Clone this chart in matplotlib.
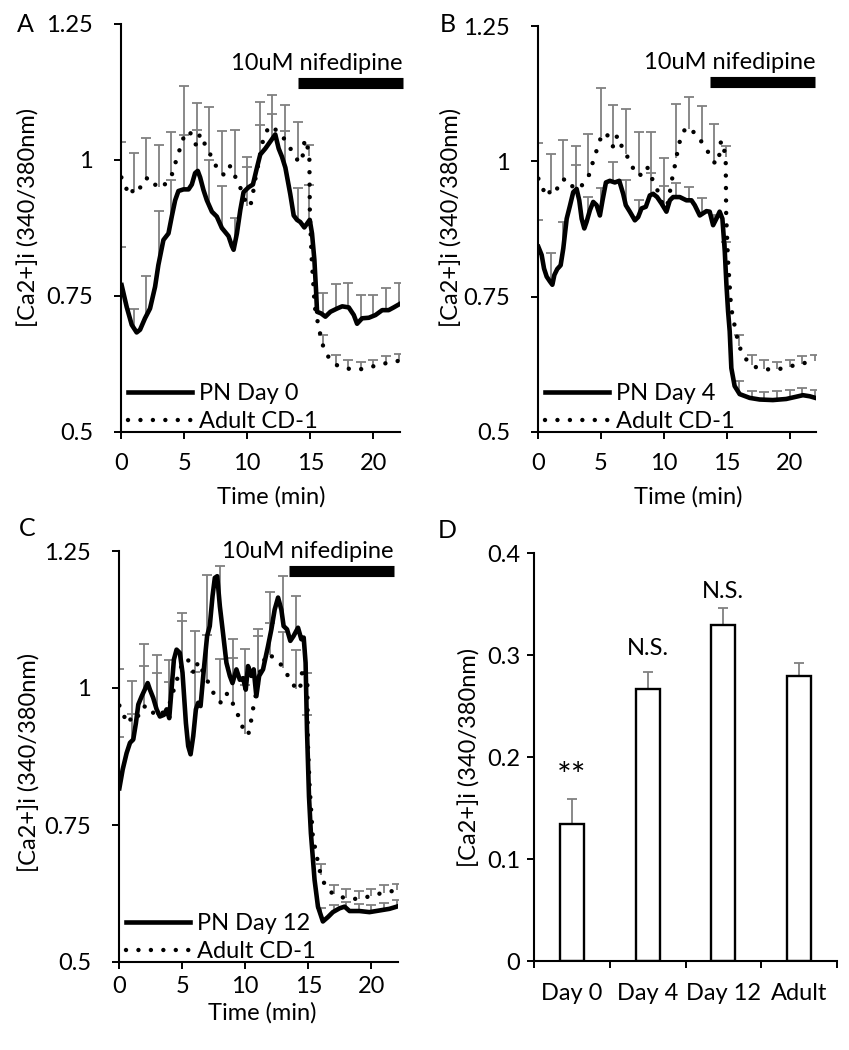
import numpy as np
import matplotlib
matplotlib.use('Agg')
import matplotlib.pyplot as plt

plt.rcParams['font.family'] = ['Lato', 'DejaVu Sans']
FS = 17
GRAY = '#808080'

# ---------------- data ----------------
# Adult CD-1 trace (same in A, B, C)
adult_t = [0.03, 0.38, 0.65, 0.99, 1.44, 1.63, 2.02, 2.33, 2.73, 3.2, 3.65, 4.03, 4.25, 4.5,
           4.76, 5.01, 5.45, 5.72, 6.02, 6.22, 6.43, 6.68, 7.03, 7.4, 7.75, 8.1, 8.45, 8.8,
           9.07, 9.42, 9.72, 9.98, 10.25, 10.42, 10.58, 10.72, 10.88, 11.05, 11.18, 11.42,
           11.76, 12.15, 12.6, 13.0, 13.42, 13.77, 14.1, 14.35, 14.55, 14.77, 14.92, 14.96,
           15.1, 15.35, 15.6, 15.78, 15.95, 16.25, 16.75, 17.3, 18.1, 18.9, 19.7, 20.5,
           21.3, 22.05]
adult_y = [0.968, 0.950, 0.935, 0.945, 0.941, 0.961, 0.966, 0.968, 0.954, 0.948, 0.960, 0.973,
           0.990, 1.009, 1.027, 1.045, 1.053, 1.034, 1.026, 1.045, 1.047, 1.025, 1.012, 0.995,
           0.978, 0.973, 0.990, 0.987, 0.968, 0.951, 0.933, 0.916, 0.916, 0.934, 0.957, 0.975,
           0.992, 1.013, 1.030, 1.047, 1.063, 1.057, 1.051, 1.036, 1.021, 1.008, 0.995, 1.000,
           1.038, 1.024, 1.008, 0.900, 0.820, 0.730, 0.700, 0.680, 0.662, 0.644, 0.628, 0.620,
           0.616, 0.615, 0.619, 0.624, 0.628, 0.631]

# PN Day 0 (panel A)
d0_t = [0.05, 0.45, 0.85, 1.24, 1.51, 1.9, 2.3, 2.7, 2.96, 3.36, 3.76, 4.02, 4.29, 4.55, 4.95,
        5.35, 5.61, 5.87, 6.08, 6.27, 6.53, 6.8, 7.2, 7.59, 7.99, 8.52, 8.78, 8.92, 9.18, 9.45,
        9.71, 10.11, 10.45, 10.77, 11.03, 11.43, 11.83, 12.22, 12.49, 12.75, 13.02, 13.41,
        13.68, 13.94, 14.2, 14.52, 14.95, 15.13, 15.32, 15.45, 15.53, 15.85, 16.19, 16.59,
        17.12, 17.52, 18.04, 18.44, 18.7, 19.1, 19.63, 20.16, 20.69, 21.2, 21.6, 22.05]
d0_y = [0.770, 0.730, 0.697, 0.683, 0.688, 0.709, 0.727, 0.767, 0.807, 0.853, 0.865, 0.896,
        0.926, 0.943, 0.946, 0.946, 0.955, 0.976, 0.980, 0.968, 0.945, 0.926, 0.905, 0.896,
        0.875, 0.860, 0.842, 0.835, 0.865, 0.908, 0.941, 0.950, 0.955, 0.986, 1.010, 1.021,
        1.034, 1.047, 1.021, 1.006, 0.986, 0.937, 0.898, 0.890, 0.886, 0.876, 0.890, 0.865,
        0.816, 0.760, 0.721, 0.718, 0.712, 0.721, 0.727, 0.731, 0.729, 0.715, 0.699, 0.709,
        0.710, 0.715, 0.724, 0.724, 0.729, 0.735]

# PN Day 4 (panel B)
d4_t = [0.03, 0.29, 0.48, 0.69, 0.95, 1.14, 1.3, 1.53, 1.8, 2.01, 2.28, 2.54, 2.8, 3.07, 3.28,
        3.47, 3.68, 3.86, 4.13, 4.39, 4.66, 4.92, 5.13, 5.4, 5.71, 6.11, 6.46, 6.77, 6.98, 7.3,
        7.7, 7.96, 8.23, 8.57, 8.89, 9.15, 9.47, 9.82, 10.21, 10.48, 10.74, 11.27, 11.8, 12.2,
        12.46, 12.86, 13.12, 13.39, 13.65, 13.92, 14.18, 14.44, 14.66, 14.85, 14.98, 15.11,
        15.24, 15.37, 15.63, 16.03, 16.83, 17.62, 18.67, 19.73, 20.5, 21.06, 21.6, 22.05]
d4_y = [0.842, 0.827, 0.802, 0.787, 0.778, 0.772, 0.790, 0.801, 0.808, 0.839, 0.894, 0.918,
        0.943, 0.949, 0.928, 0.894, 0.876, 0.888, 0.910, 0.925, 0.919, 0.900, 0.928, 0.961,
        0.964, 0.961, 0.964, 0.940, 0.919, 0.907, 0.891, 0.897, 0.913, 0.916, 0.937, 0.940,
        0.934, 0.922, 0.907, 0.928, 0.934, 0.934, 0.928, 0.928, 0.919, 0.900, 0.904, 0.908,
        0.907, 0.882, 0.894, 0.907, 0.894, 0.833, 0.772, 0.723, 0.686, 0.618, 0.585, 0.570,
        0.563, 0.560, 0.559, 0.561, 0.565, 0.568, 0.566, 0.563]

# PN Day 12 (panel C)
d12_t = [0.03, 0.29, 0.6, 0.87, 1.13, 1.34, 1.53, 1.8, 2.06, 2.27, 2.45, 2.71, 2.98, 3.24, 3.56,
         3.77, 3.98, 4.16, 4.35, 4.56, 4.82, 5.03, 5.3, 5.48, 5.67, 5.88, 6.09, 6.27, 6.46,
         6.72, 6.98, 7.19, 7.41, 7.59, 7.78, 7.99, 8.25, 8.51, 8.78, 8.99, 9.3, 9.57, 9.83,
         10.04, 10.22, 10.48, 10.67, 10.88, 11.1, 11.41, 11.8, 12.07, 12.33, 12.6, 12.86,
         13.04, 13.31, 13.57, 13.83, 14.18, 14.44, 14.63, 14.78, 14.89, 15.05, 15.2, 15.49,
         15.76, 16.15, 16.55, 16.94, 17.47, 17.87, 18.26, 19.05, 19.84, 20.63, 21.42, 22.0]
d12_y = [0.817, 0.851, 0.881, 0.900, 0.906, 0.936, 0.970, 0.985, 0.998, 1.009, 0.997, 0.982,
         0.961, 0.948, 0.951, 0.961, 0.945, 0.997, 1.052, 1.070, 1.064, 1.028, 0.936, 0.894,
         0.879, 0.912, 0.961, 0.973, 0.967, 1.034, 1.095, 1.113, 1.168, 1.201, 1.204, 1.149,
         1.098, 1.046, 1.022, 1.009, 1.034, 1.015, 1.018, 0.997, 1.040, 1.022, 1.034, 0.985,
         1.022, 1.034, 1.076, 1.107, 1.143, 1.165, 1.143, 1.113, 1.107, 1.086, 1.095, 1.110,
         1.089, 1.092, 1.046, 0.924, 0.802, 0.735, 0.650, 0.601, 0.574, 0.582, 0.591, 0.598,
         0.601, 0.593, 0.593, 0.591, 0.594, 0.597, 0.601]

# error bars (upper SEM), sampled every minute
err_t = [0, 1, 2, 3, 4, 5, 6, 7, 8, 9, 10, 11, 12, 13, 14, 14.92, 16, 17, 18, 19, 20, 21, 22]
adult_err = [0.066, 0.068, 0.074, 0.077, 0.079, 0.092, 0.078, 0.084, 0.079, 0.082, 0.090, 0.100,
             0.060, 0.066, 0.070, 0.020, 0.020, 0.017, 0.016, 0.014, 0.012, 0.014, 0.012]
d0_err = [0.070, 0.035, 0.073, 0.095, 0.070, 0.100, 0.076, 0.085, 0.077, 0.050, 0.040, 0.058,
          0.045, 0.065, 0.060, 0.065, 0.040, 0.047, 0.045, 0.045, 0.038, 0.040, 0.040]
d4_err = [0.050, 0.055, 0.050, 0.046, 0.035, 0.040, 0.037, 0.047, 0.030, 0.040, 0.040, 0.026,
          0.024, 0.030, 0.016, 0.050, 0.024, 0.013, 0.015, 0.016, 0.015, 0.014, 0.015]
d12_err = [0.093, 0.050, 0.086, 0.100, 0.060, 0.090, 0.090, 0.110, 0.076, 0.080, 0.070, 0.090,
           0.076, 0.085, 0.066, 0.050, 0.015, 0.013, 0.012, 0.012, 0.012, 0.012, 0.012]

# nifedipine application bar (start, end) in min
nif_A = (14.0, 22.3)
nif_B = (13.7, 22.06)
nif_C = (13.44, 21.76)

# panel D
d_cats = ['Day 0', 'Day 4', 'Day 12', 'Adult']
d_vals = [0.134, 0.267, 0.329, 0.279]
d_err = [0.025, 0.016, 0.017, 0.013]
d_marks = ['**', 'N.S.', 'N.S.', '']
d_mark_y = [0.180, 0.306, 0.362, 0.0]

# ---------------- figure ----------------
W, H = 849, 1050
fig = plt.figure(figsize=(W / 100, H / 100), dpi=100)


def px_axes(l, t, r, b):
    return fig.add_axes([l / W, 1 - b / H, (r - l) / W, (b - t) / H])


def style(ax, ypad):
    for s in ['top', 'right']:
        ax.spines[s].set_visible(False)
    for s in ['left', 'bottom']:
        ax.spines[s].set_linewidth(1.5)
        ax.spines[s].set_color('black')
    ax.tick_params(direction='out', length=5, width=1.4, labelsize=FS, colors='black')
    ax.tick_params(axis='y', pad=ypad)


def errs(ax, t, y, e):
    base = np.interp(err_t, t, y)
    top = base + np.array(e)
    ax.vlines(err_t, base, top, color=GRAY, lw=1.3, zorder=1)
    ax.plot(err_t, top, ls='none', marker='_', ms=7, mew=1.3, color=GRAY, zorder=1)


def trace_panel(ax, t, y, e, label, nif, nif_y, txt_y, xpad):
    errs(ax, adult_t, adult_y, adult_err)
    errs(ax, t, y, e)
    l1, = ax.plot(t, y, color='black', lw=3.3, solid_joinstyle='round', zorder=3)
    l2, = ax.plot(adult_t, adult_y, color='black', lw=3.2, ls=(0, (0.001, 2.8)),
                  dash_capstyle='round', zorder=3)
    ax.set_xlim(0, 22.1)
    ax.set_ylim(0.5, 1.25)
    ax.set_xticks([0, 5, 10, 15, 20])
    ax.set_yticks([0.5, 0.75, 1.0, 1.25])
    ax.set_yticklabels(['0.5', '0.75', '1', '1.25'])
    style(ax, 15)
    ax.tick_params(axis='x', pad=xpad)
    ax.plot(list(nif), [nif_y, nif_y], color='black', lw=8, solid_capstyle='butt', clip_on=False)
    ax.text(nif[1], txt_y, '10uM nifedipine', ha='right', va='center', fontsize=FS)
    ax.legend([l1, l2], [label, 'Adult CD-1'], loc='lower left', bbox_to_anchor=(0.025, 0.0),
              frameon=False, fontsize=FS, borderpad=0, borderaxespad=0, handlelength=2.7,
              handletextpad=0.3, labelspacing=0.3)


axA = px_axes(121, 24, 400, 432)
trace_panel(axA, d0_t, d0_y, d0_err, 'PN Day 0', nif_A, 1.142, 1.178, 10)
axB = px_axes(538, 26, 816, 432)
trace_panel(axB, d4_t, d4_y, d4_err, 'PN Day 4', nif_B, 1.146, 1.183, 10)
axC = px_axes(119, 551, 398, 962)
trace_panel(axC, d12_t, d12_y, d12_err, 'PN Day 12', nif_C, 1.214, 1.249, 5)

axD = px_axes(534, 553, 837, 961)
x = np.arange(len(d_cats))
axD.bar(x, d_vals, width=0.32, color='white', edgecolor='black', lw=1.7, zorder=2)
tops = np.array(d_vals) + np.array(d_err)
axD.vlines(x, d_vals, tops, color=GRAY, lw=1.3, zorder=1)
axD.plot(x, tops, ls='none', marker='_', ms=7, mew=1.3, color=GRAY, zorder=1)
for xi, my, m in zip(x, d_mark_y, d_marks):
    if m == '**':
        axD.text(xi, my, m, ha='center', va='center', fontsize=25)
    elif m:
        axD.text(xi, my, m, ha='center', va='center', fontsize=FS)
axD.set_xlim(-0.5, 3.5)
axD.set_ylim(0, 0.4)
axD.set_yticks([0, 0.1, 0.2, 0.3, 0.4])
axD.set_yticklabels(['0', '0.1', '0.2', '0.3', '0.4'])
style(axD, 5)
axD.set_xticks([-0.5, 0.5, 1.5, 2.5, 3.5])
axD.set_xticklabels([])
axD.set_xticks(x, minor=True)
axD.set_xticklabels(d_cats, minor=True)
axD.tick_params(axis='x', which='minor', length=0, pad=16, labelsize=FS)

# labels
ylab = '[Ca2+]i (340/380nm)'
fig.text(29 / W, 1 - 217 / H, ylab, rotation=90, ha='center', va='center', fontsize=FS)
fig.text(452 / W, 1 - 217 / H, ylab, rotation=90, ha='center', va='center', fontsize=FS)
fig.text(30 / W, 1 - 762 / H, ylab, rotation=90, ha='center', va='center', fontsize=FS)
fig.text(470 / W, 1 - 757 / H, ylab, rotation=90, ha='center', va='center', fontsize=FS)
fig.text(271 / W, 1 - 497 / H, 'Time (min)', ha='center', va='center', fontsize=FS)
fig.text(688 / W, 1 - 497 / H, 'Time (min)', ha='center', va='center', fontsize=FS)
fig.text(262 / W, 1 - 1013 / H, 'Time (min)', ha='center', va='center', fontsize=FS)
for lt, (px, py) in zip('ABCD', [(25, 24), (448, 24), (27, 529), (447, 530)]):
    fig.text(px / W, 1 - py / H, lt, ha='center', va='center', fontsize=18)

fig.savefig('out.png', dpi=100)
